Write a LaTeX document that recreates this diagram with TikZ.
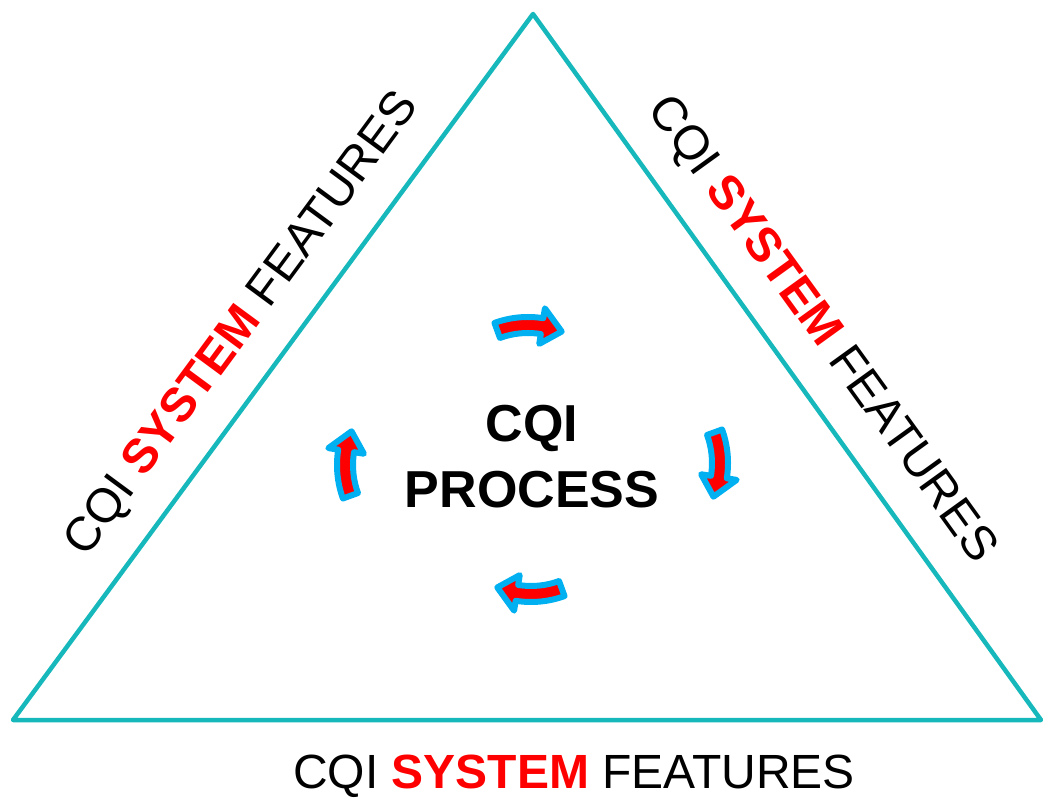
\documentclass[tikz,border=0pt]{standalone}
\usepackage{fontspec}
\setmainfont{Liberation Sans}
\definecolor{tri}{RGB}{22,184,188}
\definecolor{arrowblue}{RGB}{0,176,240}
\definecolor{sysred}{RGB}{255,0,0}
\newcommand{\cqisys}{CQI \textbf{\textcolor{sysred}{SYSTEM}} FEATURES}
\tikzset{
  sidelabel/.style={font=\fontsize{48}{56}\selectfont, inner sep=0pt},
  centerlabel/.style={font=\fontsize{52}{62}\selectfont\bfseries, inner sep=0pt},
  trianglepath/.style={draw=tri, line width=4.5pt, line join=round},
  pics/carrow/.style={code={
    \def\R{90}\def\w{8}\def\h{18}
    \begin{scope}[shift={(0,-90)}]
    \path[fill=sysred, draw=arrowblue, line width=6pt, line join=round]
      (110:{\R+\w}) arc[start angle=110, end angle=81, radius={\R+\w}]
      -- (81:{\R+\h}) -- (68:{\R}) -- (81:{\R-\h})
      -- (81:{\R-\w}) arc[start angle=81, end angle=110, radius={\R-\w}]
      -- cycle;
    \end{scope}
  }}
}
\begin{document}
\begin{tikzpicture}[x=1pt,y=1pt]
\useasboundingbox (0,0) rectangle (1044,798);
% triangle
\coordinate (apex) at (533,784);
\coordinate (bl) at (13,78);
\coordinate (br) at (1041,78);
\draw[trianglepath] (apex) -- (bl) -- (br) -- cycle;
% side labels
\node[sidelabel, rotate=53.6] (leftlab) at (243,473) {\cqisys};
\node[sidelabel, rotate=-54.2] (rightlab) at (821,468) {\cqisys};
\node[sidelabel] (bottomlab) at (574,22) {\cqisys};
% center
\node[centerlabel] (cqi) at (532,370) {CQI};
\node[centerlabel] (process) at (532,308) {PROCESS};
% cycle arrows
\pic (atop) at (528,473) {carrow};
\pic[rotate=-90] (aright) at (720,335) {carrow};
\pic[rotate=180] (abottom) at (531,204) {carrow};
\pic[rotate=90] (aleft) at (345,333) {carrow};
\end{tikzpicture}
\end{document}
